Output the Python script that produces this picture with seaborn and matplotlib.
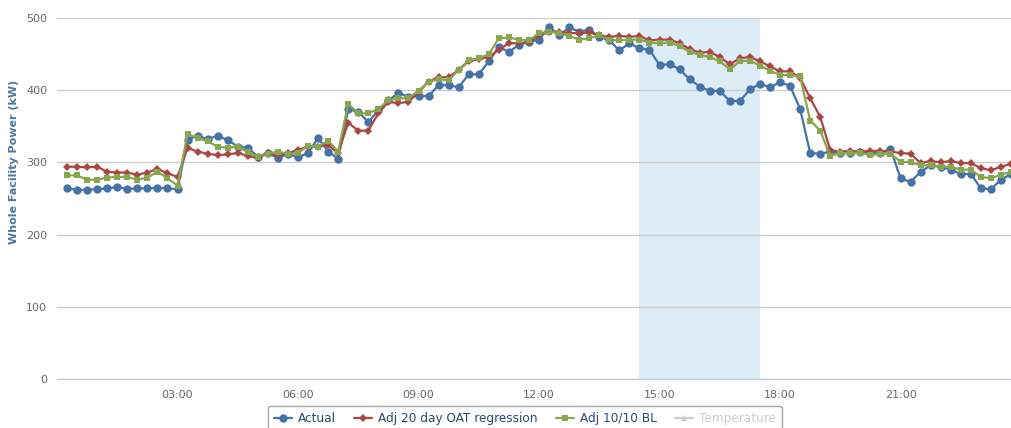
import numpy as np
import pandas as pd
import seaborn as sns
import matplotlib.pyplot as plt
from matplotlib.lines import Line2D

# 15-minute readings, 00:15 .. 23:45
hours = np.arange(1, 96) * 0.25

actual = [264, 262, 262, 263, 264, 266, 263, 264, 264, 265, 264, 263,
          331, 337, 332, 337, 331, 322, 320,
          308, 313, 306, 312, 307, 313, 334, 315, 305, 374, 370, 356, 372, 386, 396, 391, 392, 392,
          407, 407, 404, 422, 422, 440, 460, 453, 463, 467, 470, 488, 476, 487, 481, 484, 474, 469, 455, 465,
          458, 456, 435, 436, 429, 415, 405, 399, 399, 385, 385, 401, 409, 404, 411, 406, 374, 313, 312,
          315, 313, 313, 315, 313, 313, 319, 278, 273, 287, 296, 294, 290, 284, 284, 264, 263, 276, 284]

oat_reg = [294, 294, 293, 294, 287, 286, 286, 283, 286, 291, 285, 280,
           320, 315, 312, 310, 311, 313, 309,
           306, 313, 310, 313, 317, 322, 322, 324, 313, 355, 344, 344, 368, 384, 382, 384, 397, 412,
           418, 418, 428, 440, 443, 446, 456, 465, 465, 467, 476, 481, 481, 479, 479, 480, 476, 474, 475, 474,
           475, 469, 470, 470, 465, 457, 452, 453, 446, 436, 444, 446, 440, 433, 426, 426, 417, 389, 363,
           317, 315, 316, 315, 316, 316, 315, 313, 312, 299, 302, 300, 302, 299, 299, 292, 289, 294, 298]

bl_1010 = [282, 282, 276, 276, 279, 280, 280, 276, 279, 287, 278, 268,
           339, 334, 329, 322, 320, 322, 314,
           308, 312, 315, 312, 313, 323, 322, 330, 315, 381, 368, 368, 374, 386, 389, 389, 399, 412,
           415, 414, 428, 442, 444, 450, 472, 473, 470, 469, 479, 481, 479, 475, 470, 472, 476, 470, 469, 470,
           470, 466, 465, 466, 461, 453, 449, 446, 440, 429, 440, 441, 434, 427, 421, 421, 419, 358, 344,
           309, 313, 313, 313, 310, 312, 312, 301, 300, 296, 296, 294, 294, 290, 290, 280, 278, 283, 287]

event_start, event_end = 14.5, 17.5
tick_hours = [3, 6, 9, 12, 15, 18, 21]
tick_labels = ["03:00", "06:00", "09:00", "12:00", "15:00", "18:00", "21:00"]

df = pd.DataFrame({"hour": hours, "Actual": actual,
                   "Adj 20 day OAT regression": oat_reg, "Adj 10/10 BL": bl_1010})

sns.set_style("white")
plt.rcParams['font.family'] = ['DejaVu Sans']

fig = plt.figure(figsize=(10.11, 4.28), dpi=100)
ax = fig.add_axes([57/1011, 49/428, 954/1011, 361/428])

styles = [("Actual", "#4572A7", "o", 6.0),
          ("Adj 20 day OAT regression", "#AA4643", "D", 3.6),
          ("Adj 10/10 BL", "#89A54E", "s", 3.8)]

# highlighted event window
ax.axvspan(event_start, event_end, color="#DDEDF7", zorder=0, lw=0)

for name, col, mk, ms in styles:
    sns.lineplot(data=df, x="hour", y=name, ax=ax, color=col, marker=mk,
                 markersize=ms, markeredgewidth=0, linewidth=1.6, legend=False, zorder=3)

ax.set_xlim(0, 23.75)
ax.set_ylim(0, 500)
ax.set_yticks([0, 100, 200, 300, 400, 500])
ax.set_xticks(tick_hours)
ax.set_xticklabels(tick_labels)
ax.set_xlabel("")
ax.set_ylabel("")

ax.set_axisbelow(True)
ax.yaxis.grid(True, color="#CCCCCC", linewidth=1.0)
ax.xaxis.grid(False)
for s in ["top", "right", "left"]:
    ax.spines[s].set_visible(False)
ax.spines["bottom"].set_color("#C0D0E0")
ax.spines["bottom"].set_linewidth(1.0)

ax.tick_params(axis="x", colors="#C0D0E0", length=5, width=1, direction="out", labelcolor="#666666", labelsize=8, pad=3)
ax.tick_params(axis="y", colors="#C0C0C0", length=3, width=0.8, labelcolor="#666666", labelsize=8, pad=4)

fig.text(14/1011, 1 - 162/428, "Whole Facility Power (kW)", rotation=90, ha="center", va="center",
         color="#4D759E", fontsize=8, fontweight="bold")

# legend (Temperature series is hidden, shown greyed out)
handles = [Line2D([], [], color=c, marker=m, markersize=s, markeredgewidth=0, linewidth=1.6)
           for _, c, m, s in styles]
handles.append(Line2D([], [], color="#CCCCCC", marker="^", markersize=5, markeredgewidth=0, linewidth=1.6))
labels = [s[0] for s in styles] + ["Temperature"]
leg = fig.legend(handles, labels, loc="upper center", bbox_to_anchor=(525/1011, 1 - 400/428), ncol=4,
                 frameon=True, fancybox=True, edgecolor="#909090", fontsize=8.7, handlelength=1.5,
                 columnspacing=1.5, handletextpad=0.5, borderpad=0.5)
leg.get_frame().set_linewidth(1.0)
for i, t in enumerate(leg.get_texts()):
    t.set_color("#CCCCCC" if i == 3 else "#274B6D")

fig.savefig("out.png", dpi=100)
